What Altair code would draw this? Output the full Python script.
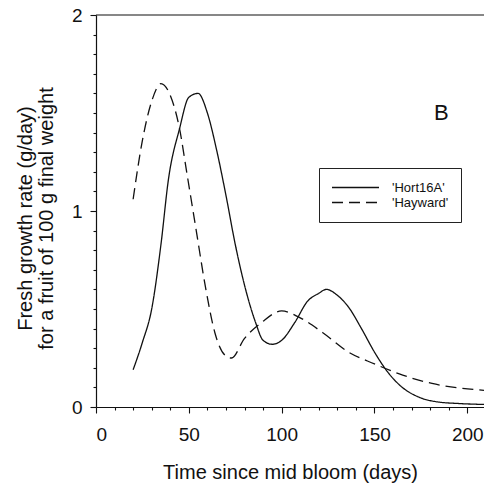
import altair as alt
import pandas as pd

# Data
series = ["'Hort16A'", "'Hayward'"]

hort_days = [20, 25, 30, 35, 39, 45, 50, 55, 60, 65, 70, 75, 79, 86, 90, 95, 100,
             107, 114, 120, 124, 130, 136, 143, 150, 157, 165, 174, 184, 195, 209]
hort_rate = [0.19, 0.33, 0.50, 0.83, 1.16, 1.42, 1.58, 1.60, 1.50, 1.31, 1.08, 0.83,
             0.66, 0.43, 0.34, 0.32, 0.34, 0.43, 0.54, 0.58, 0.60, 0.57, 0.51, 0.40,
             0.28, 0.18, 0.10, 0.05, 0.026, 0.018, 0.013]

hay_days = [20, 25, 30, 35, 40, 45, 49, 54, 59, 64, 70, 73, 80, 89, 100, 109, 122,
            136, 150, 163, 181, 209]
hay_rate = [1.06, 1.36, 1.56, 1.65, 1.59, 1.42, 1.19, 0.90, 0.61, 0.38, 0.26, 0.25,
            0.35, 0.43, 0.49, 0.46, 0.38, 0.28, 0.22, 0.17, 0.12, 0.085]

# tick positions (every 10 days / 0.1 units; labelled every 50 days / 1 unit)
x_ticks = list(range(0, 210, 10))
y_ticks = [i / 10 for i in range(0, 21)]

panel_label = ["B"]
panel_label_day = [186]
panel_label_rate = [1.50]
top_rate = [2]

df = pd.concat([
    pd.DataFrame({"day": hort_days, "rate": hort_rate, "series": series[0]}),
    pd.DataFrame({"day": hay_days, "rate": hay_rate, "series": series[1]}),
], ignore_index=True)
label_df = pd.DataFrame({"day": panel_label_day, "rate": panel_label_rate,
                         "text": panel_label})
top_df = pd.DataFrame({"rate": top_rate})

FONT = "Liberation Sans"
INK = "#111111"

x_scale = alt.Scale(domain=[0, 209], nice=False, zero=False)
y_scale = alt.Scale(domain=[0, 2], nice=False, zero=False)

x_major = "datum.value % 50 == 0"
y_major = "abs(datum.value - round(datum.value)) < 0.001"

x_axis = alt.Axis(
    orient="bottom", values=x_ticks, format=".0f",
    labelExpr=f"{x_major} ? datum.label : ''", labelOverlap=False,
    tickSize={"condition": {"test": x_major, "value": 6}, "value": 3},
    labelPadding=12,
    title="Time since mid bloom (days)", titleY=71, titleBaseline="alphabetic",
    grid=False)
y_axis = alt.Axis(
    orient="left", values=y_ticks, format=".0f",
    labelExpr=f"{y_major} ? datum.label : ''", labelOverlap=False,
    tickSize={"condition": {"test": y_major, "value": 6}, "value": 3},
    labelPadding=8,
    title=["Fresh growth rate (g/day)", "for a fruit of 100 g final weight"],
    titleX=-65, titleY=203, titleBaseline="alphabetic", titleLineHeight=21,
    grid=False)

lines = alt.Chart(df).mark_line(
    color=INK, strokeWidth=1.3, interpolate="monotone", clip=True
).encode(
    x=alt.X("day:Q", scale=x_scale, axis=x_axis),
    y=alt.Y("rate:Q", scale=y_scale, axis=y_axis),
    strokeDash=alt.StrokeDash("series:N", scale=alt.Scale(
        domain=series, range=[[1, 0], [11, 6]]), legend=alt.Legend(
        title=None, orient="none", legendX=223, legendY=153,
        symbolType="stroke", symbolSize=2209, symbolStrokeWidth=1.3,
        symbolStrokeColor=INK, labelFont=FONT, labelFontSize=13,
        labelColor=INK, labelOffset=12, clipHeight=15, rowPadding=0,
        padding=12, strokeColor="#222222", fillColor="white")),
)

top_border = alt.Chart(top_df).mark_rule(color=INK, strokeWidth=1.2).encode(
    y=alt.Y("rate:Q", scale=y_scale, axis=y_axis)
)

label = alt.Chart(label_df).mark_text(
    font=FONT, fontSize=22, color=INK
).encode(
    x=alt.X("day:Q", scale=x_scale, axis=x_axis),
    y=alt.Y("rate:Q", scale=y_scale, axis=y_axis),
    text="text:N",
)

chart = alt.layer(lines, top_border, label).properties(
    width=388, height=392,
    autosize=alt.AutoSizeParams(type="none"),
    padding={"left": 96, "top": 15, "right": 0, "bottom": 83},
).configure_view(stroke=None).configure_axis(
    domainColor=INK, tickColor=INK, labelColor=INK, titleColor=INK,
    labelFont=FONT, titleFont=FONT, labelFontSize=19, titleFontSize=20,
    titleFontWeight="normal", domainWidth=1.2, tickWidth=1.1,
)

chart.save("out.html", embed_options={"renderer": "svg", "actions": False})
